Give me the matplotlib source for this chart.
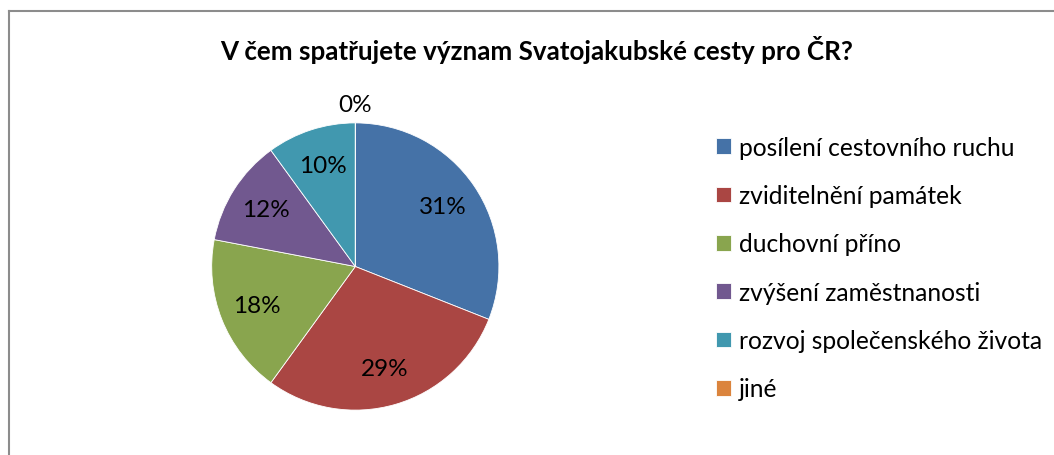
import numpy as np
import matplotlib
matplotlib.use("Agg")
import matplotlib.pyplot as plt
from matplotlib.lines import Line2D

plt.rcParams['font.family'] = ['Lato', 'DejaVu Sans']

# data
categories = ["posílení cestovního ruchu", "zviditelnění památek", "duchovní příno",
              "zvýšení zaměstnanosti", "rozvoj společenského života", "jiné"]
values = [31, 29, 18, 12, 10, 0]
colors = ["#4572A7", "#AA4643", "#89A54E", "#71588F", "#4198AF", "#DB843D"]
title = "V čem spatřujete význam Svatojakubské cesty pro ČR?"

W, H = 1054, 456
fig = plt.figure(figsize=(W / 100, H / 100), dpi=100)

# pie axes: centre ~ (355, 268) px, radius ~144 px, limits +-1.2
lim = 1.2
r_px = 143.6
side = 2 * lim * r_px
cx, cy = 355.3, 267.5
ax = fig.add_axes([(cx - side / 2) / W, (H - cy - side / 2) / H, side / W, side / H])

wedges, _ = ax.pie(values, colors=colors, startangle=90, counterclock=False,
                   wedgeprops=dict(linewidth=0.6, edgecolor="white"))
ax.set_xlim(-lim, lim)
ax.set_ylim(-lim, lim)
ax.set_aspect("equal")

# percentage labels inside slices, 0% sits outside
for w, v in zip(wedges, values):
    ang = np.deg2rad((w.theta1 + w.theta2) / 2)
    rr = 0.74 if v > 0 else 1.13
    ax.text(rr * np.cos(ang), rr * np.sin(ang), f"{v}%", ha="center", va="center",
            fontsize=17.5, color="black")

fig.text(537 / W, 1 - 50 / H, title, ha="center", va="center",
         fontsize=18.7, fontweight="bold")

leg = fig.legend(wedges, categories, loc="upper left",
                 bbox_to_anchor=(706 / W, 1 - 127 / H), frameon=False,
                 fontsize=17.7, handlelength=0.6, handleheight=0.6,
                 handletextpad=0.35, labelspacing=1.03, borderaxespad=0)

# chart border (runs off the right and bottom edges)
fig.add_artist(Line2D([8.5 / W, 8.5 / W], [0, 1 - 11.5 / H], transform=fig.transFigure,
                      color="#8c8c8c", linewidth=1.5))
fig.add_artist(Line2D([8.5 / W, 1], [1 - 11.5 / H, 1 - 11.5 / H], transform=fig.transFigure,
                      color="#8c8c8c", linewidth=1.5))

fig.savefig("out.png", dpi=100)
